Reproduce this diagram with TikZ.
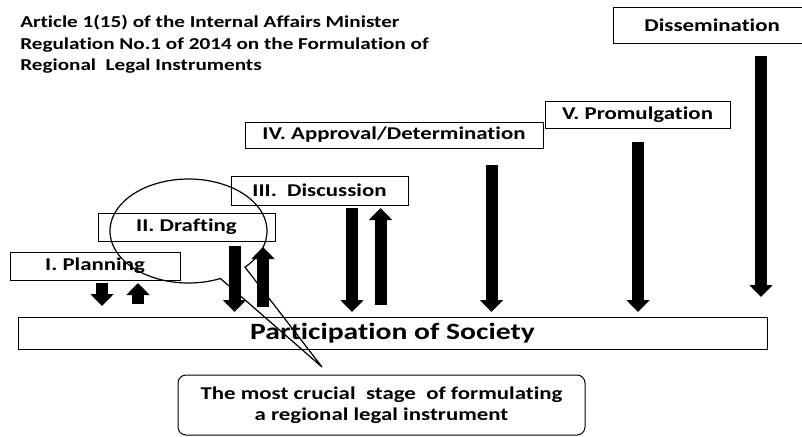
\documentclass[tikz,border=0pt]{standalone}
\usepackage{fontspec}
\setmainfont{Carlito}[FakeStretch=1.27,Ligatures=NoCommon]
\usetikzlibrary{arrows.meta}
\begin{document}
\begin{tikzpicture}[x=0.75pt,y=-0.75pt,
  titletxt/.style={anchor=base west,inner sep=0pt,font=\fontsize{12.5pt}{15pt}\selectfont\bfseries},
  stagebox/.style={draw,line width=0.75pt,inner sep=0pt,font=\fontsize{13.5pt}{16pt}\selectfont\bfseries},
  blk/.style={line width=9pt,-{Triangle[width=17pt,length=9pt]}},
  callout/.style={draw,line width=0.9pt}]
\useasboundingbox (0,0) rectangle (802,436);

% title
\node[titletxt] (t1) at (20,27) {Article 1(15) of the Internal Affairs Minister};
\node[titletxt] (t2) at (20,49) {Regulation No.1 of 2014 on the Formulation of};
\node[titletxt] (t3) at (20,70) {Regional\ \ Legal Instruments};

% stage boxes
\node[stagebox,minimum width=170*0.75pt,minimum height=28*0.75pt] (plan) at (95,266) {I. Planning};
\node[stagebox,minimum width=177*0.75pt,minimum height=28*0.75pt] (draft) at (186.5,227) {II. Drafting};
\node[stagebox,minimum width=177*0.75pt,minimum height=29*0.75pt] (disc) at (319.5,190.5) {III.\ \ Discussion};
\node[stagebox,minimum width=298*0.75pt,minimum height=26*0.75pt] (appr) at (394,135) {IV. Approval/Determination};
\node[stagebox,minimum width=185*0.75pt,minimum height=27*0.75pt] (prom) at (637.5,114.5) {V. Promulgation};
\begin{scope}
\clip (0,0) rectangle (802,436);
\node[stagebox,minimum width=193*0.75pt,minimum height=36*0.75pt] (diss) at (709.5,25) {\hspace*{4pt}Dissemination};
\end{scope}

\node[stagebox,minimum width=749*0.75pt,minimum height=32*0.75pt,font=\fontsize{17.5pt}{20pt}\selectfont\bfseries] (soc) at (392.5,333) {Participation of Society};

\node[draw,line width=0.75pt,rounded corners=6pt,inner sep=0pt,minimum width=407*0.75pt,minimum height=60*0.75pt,align=center,font=\fontsize{13.5pt}{15.75pt}\selectfont\bfseries] (crucial) at (381.5,405) {The most crucial\ \ stage\ \ of formulating\\a regional legal instrument};

% arrow end points
\coordinate (p1a) at (102,283); \coordinate (p1b) at (102,306);
\coordinate (p2a) at (138,304); \coordinate (p2b) at (138,283);
\coordinate (d1a) at (234.5,246); \coordinate (d1b) at (234.5,312);
\coordinate (d2a) at (263,307); \coordinate (d2b) at (263,247);
\coordinate (c1a) at (352,208); \coordinate (c1b) at (352,312);
\coordinate (c2a) at (380.5,305); \coordinate (c2b) at (380.5,208);
\coordinate (a1a) at (491.5,165); \coordinate (a1b) at (491.5,312);
\coordinate (r1a) at (638,142); \coordinate (r1b) at (638,312);
\coordinate (s1a) at (761,56); \coordinate (s1b) at (761,297);

\draw[blk] (p1a) -- (p1b);
\draw[blk] (p2a) -- (p2b);
\draw[blk] (d1a) -- (d1b);
\draw[blk] (d2a) -- (d2b);
\draw[blk] (c1a) -- (c1b);
\draw[blk] (c2a) -- (c2b);
\draw[blk] (a1a) -- (a1b);
\draw[blk] (r1a) -- (r1b);
\draw[blk] (s1a) -- (s1b);

% callout ellipse with wedge
\coordinate (tip) at (322,367);
\draw[callout] plot[domain=66:404,samples=150] ({188.5+78.5*cos(\x)},{231+52*sin(\x)}) -- (tip) -- cycle;
\end{tikzpicture}
\end{document}
